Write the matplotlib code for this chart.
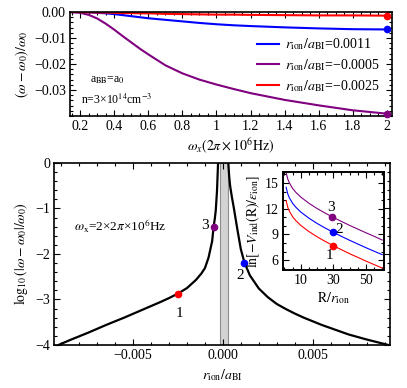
import matplotlib
matplotlib.use('Agg')
import matplotlib.pyplot as plt
from matplotlib.ticker import MultipleLocator

plt.rcParams['font.family'] = ['Liberation Serif', 'DejaVu Serif']
plt.rcParams['mathtext.fontset'] = 'stix'
plt.rcParams['font.size'] = 10

# top panel: frequency shift vs trap frequency
omega_x = [0.14, 0.2, 0.25, 0.3, 0.35, 0.4, 0.45, 0.5, 0.55, 0.6, 0.7, 0.8, 0.9, 1.0, 1.1, 1.2, 1.4, 1.6, 1.8, 2.0]
shift_blue = [0, 0, -0.0001, -0.0003, -0.0005, -0.0008, -0.0012, -0.0016, -0.0020, -0.0024, -0.0030, -0.0036,
              -0.0042, -0.0047, -0.0051, -0.0054, -0.0059, -0.0063, -0.0066, -0.0067]
shift_purple = [0, -0.0003, -0.0011, -0.0025, -0.0045, -0.0068, -0.0093, -0.0117, -0.0141, -0.0163, -0.0205, -0.0236,
                -0.0260, -0.0279, -0.0296, -0.0312, -0.0338, -0.0359, -0.0378, -0.0391]
shift_red = [0, 0, -0.0001, -0.0002, -0.0002, -0.0003, -0.0004, -0.0004, -0.0005, -0.0005, -0.0007, -0.0008,
             -0.0009, -0.0010, -0.0010, -0.0011, -0.0012, -0.0013, -0.0013, -0.0014]
labels_top = ['$r_{\\mathrm{ion}}/a_{\\mathrm{BI}}$=0.0011',
              '$r_{\\mathrm{ion}}/a_{\\mathrm{BI}}$=\u22120.0005',
              '$r_{\\mathrm{ion}}/a_{\\mathrm{BI}}$=\u22120.0025']

# bottom panel: log10 shift vs r_ion/a_BI
r_left = [-0.00915, -0.0085, -0.0075, -0.0065, -0.0055, -0.0045, -0.0035, -0.003, -0.0025, -0.002,
          -0.0015, -0.0012, -0.001, -0.0008, -0.0006, -0.00052, -0.00045, -0.0004, -0.00033, -0.00027]
log_left = [-4.0, -3.89, -3.73, -3.56, -3.40, -3.23, -3.06, -2.97, -2.87, -2.75,
            -2.57, -2.43, -2.31, -2.08, -1.72, -1.41, -1.22, -1.05, -0.62, 0.0]
r_right = [0.0003, 0.00035, 0.0004, 0.0005, 0.0006, 0.0008, 0.001, 0.0012, 0.0015, 0.002,
           0.0025, 0.003, 0.0035, 0.004, 0.0045, 0.005, 0.0055, 0.006, 0.007, 0.008, 0.0092]
log_right = [0.0, -0.3, -0.5, -0.75, -0.97, -1.45, -1.9, -2.19, -2.47, -2.76,
             -2.95, -3.1, -3.21, -3.31, -3.40, -3.48, -3.56, -3.63, -3.77, -3.88, -4.0]
band = [-0.00018, 0.00028]
pts_r = [-0.0025, 0.0012, -0.00052]
pts_log = [-2.87, -2.19, -1.41]
pts_col = ['red', 'blue', 'purple']

# inset: induced potential
R = [1, 2, 3, 5, 7, 10, 15, 20, 25, 30, 35, 40, 45, 50, 55, 60]
lnV_red = [12.94, 12.18, 11.71, 11.07, 10.61, 10.06, 9.34, 8.73, 8.19, 7.69, 7.22, 6.76, 6.33, 5.90, 5.49, 5.09]
lnV_blue = [14.50, 13.74, 13.27, 12.63, 12.17, 11.62, 10.90, 10.29, 9.75, 9.25, 8.78, 8.32, 7.89, 7.46, 7.05, 6.65]
lnV_purple = [16.24, 15.48, 15.01, 14.37, 13.91, 13.36, 12.64, 12.03, 11.49, 10.99, 10.52, 10.06, 9.63, 9.20, 8.79, 8.35]
ins_R = [30, 29.5, 29]
ins_V = [7.7, 9.25, 11.03]

fig = plt.figure(figsize=(4.07, 3.88), dpi=100)


def frame(ax, lw=1.2):
    for s in ax.spines.values():
        s.set_linewidth(lw)
    ax.tick_params(which='both', direction='in', top=True, right=True, width=0.8)
    ax.tick_params(which='major', length=4, pad=3)
    ax.tick_params(which='minor', length=2)


# ---- top
ax1 = fig.add_axes([0.172, 0.701, 0.791, 0.268])
ax1.plot(omega_x, shift_blue, color='blue', lw=1.5, label=labels_top[0])
ax1.plot(omega_x, shift_purple, color='purple', lw=1.5, label=labels_top[1])
ax1.plot(omega_x, shift_red, color='red', lw=1.5, label=labels_top[2])
for y, c in zip([shift_blue[-1], shift_purple[-1], shift_red[-1]], ['blue', 'purple', 'red']):
    ax1.plot(omega_x[-1], y, 'o', ms=4.5, color=c, clip_on=False, zorder=4)
ax1.set_xlim(0.14, 2.03)
ax1.set_ylim(-0.04, 0.0)
ax1.set_xticks([0.2, 0.4, 0.6, 0.8, 1.0, 1.2, 1.4, 1.6, 1.8, 2.0])
ax1.set_xticklabels(['0.2', '0.4', '0.6', '0.8', '1', '1.2', '1.4', '1.6', '1.8', '2'])
ax1.set_yticks([0, -0.01, -0.02, -0.03])
ax1.set_yticklabels(['0.00', '\u22120.01', '\u22120.02', '\u22120.03'])
ax1.xaxis.set_minor_locator(MultipleLocator(0.05))
ax1.yaxis.set_minor_locator(MultipleLocator(0.002))
frame(ax1)
ax1.set_xlabel(r'$\omega_x(2\pi\times10^6\mathrm{Hz})$', labelpad=3)
ax1.set_ylabel(r'$(\omega-\omega_0)/\omega_0$', labelpad=2)
ax1.legend(loc='center left', bbox_to_anchor=(0.56, 0.49), frameon=False, handlelength=1.6,
           handletextpad=0.4, labelspacing=0.35, borderpad=0)
ax1.text(0.115, 0.345, 'a$_{\\mathrm{BB}}$=a$_0$', transform=ax1.transAxes,
         ha='center', va='center', fontsize=8.5)
ax1.text(0.146, 0.16, 'n=3\u00d710$^{14}$cm$^{-3}$', transform=ax1.transAxes,
         ha='center', va='center', fontsize=8.5)

# ---- bottom
ax2 = fig.add_axes([0.133, 0.111, 0.825, 0.469])
ax2.axvspan(band[0], band[1], facecolor='#d3d3d3', edgecolor='#8c8c8c', lw=0.8)
ax2.plot(r_left, log_left, color='black', lw=1.6)
ax2.plot(r_right, log_right, color='black', lw=1.6)
for x, y, c in zip(pts_r, pts_log, pts_col):
    ax2.plot(x, y, 'o', ms=4.5, color=c, zorder=4)
ax2.text(-0.0024, -3.32, '1', ha='center', va='center', fontsize=11)
ax2.text(0.00095, -2.47, '2', ha='center', va='center', fontsize=11)
ax2.text(-0.00098, -1.38, '3', ha='center', va='center', fontsize=11)
ax2.text(-0.00828, -1.38, '$\\omega_{\\mathrm{x}}$=2\u00d72$\\pi$\u00d710$^6$Hz', ha='left', va='center',
         fontsize=9.5)
ax2.set_xlim(-0.0094, 0.0093)
ax2.set_ylim(-4, 0)
ax2.set_xticks([-0.005, 0.0, 0.005])
ax2.set_xticklabels(['\u22120.005', '0.000', '0.005'])
ax2.set_yticks([0, -1, -2, -3, -4])
ax2.set_yticklabels(['0', '\u22121', '\u22122', '\u22123', '\u22124'])
ax2.xaxis.set_minor_locator(MultipleLocator(0.001))
ax2.yaxis.set_minor_locator(MultipleLocator(0.2))
frame(ax2)
ax2.set_xlabel(r'$r_{\mathrm{ion}}/a_{\mathrm{BI}}$', labelpad=4)
ax2.set_ylabel(r'$\log_{10}(|\omega-\omega_0|/\omega_0)$', labelpad=4)

# ---- inset
ax3 = fig.add_axes([0.695, 0.304, 0.248, 0.253])
ax3.plot(R, lnV_red, color='red', lw=0.8)
ax3.plot(R, lnV_blue, color='blue', lw=0.8)
ax3.plot(R, lnV_purple, color='purple', lw=0.8)
for x, y, c in zip(ins_R, ins_V, ['red', 'blue', 'purple']):
    ax3.plot(x, y, 'o', ms=4.5, color=c, zorder=4)
ax3.text(27.5, 6.6, '1', ha='center', va='center', fontsize=11)
ax3.text(33.5, 9.6, '2', ha='center', va='center', fontsize=11)
ax3.text(28.3, 12.1, '3', ha='center', va='center', fontsize=11)
ax3.set_xlim(-1, 61)
ax3.set_ylim(4.85, 16.3)
ax3.set_xticks([10, 30, 50])
ax3.set_yticks([6, 9, 12, 15])
ax3.xaxis.set_minor_locator(MultipleLocator(5))
ax3.yaxis.set_minor_locator(MultipleLocator(1))
frame(ax3, lw=1.4)
ax3.set_xlabel(r'$\mathrm{R}/r_{\mathrm{ion}}$', labelpad=2)
ax3.set_ylabel(r'$\ln[-V_{\mathrm{ind}}(\mathrm{R})/\epsilon_{\mathrm{ion}}]$', labelpad=2)

fig.savefig('out.png', dpi=100)
